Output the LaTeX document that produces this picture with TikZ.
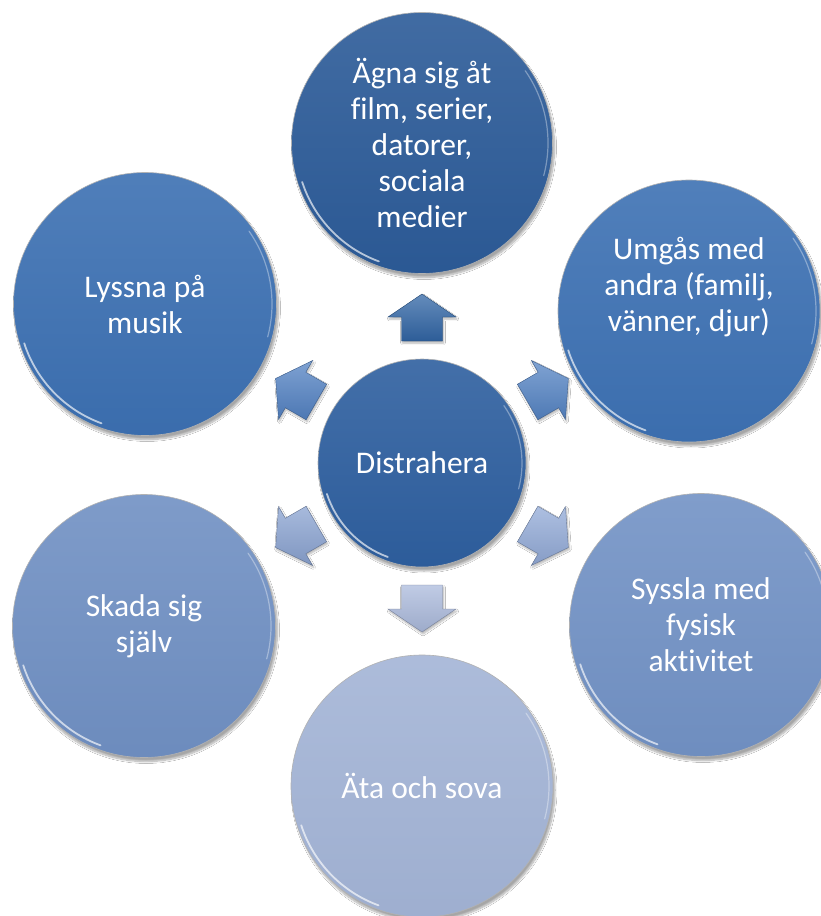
\documentclass[tikz,border=0pt]{standalone}
\usepackage{fontspec}
\setmainfont{Carlito}[Ligatures={NoCommon,NoContextual}]
\usetikzlibrary{shadows.blur,calc}

\definecolor{cTop}{HTML}{2C5B98}
\definecolor{cMid}{HTML}{2E5F9F}
\definecolor{cUL}{HTML}{3C70B2}
\definecolor{cUR}{HTML}{3D71B3}
\definecolor{cLL}{HTML}{7090C3}
\definecolor{cLR}{HTML}{7292C5}
\definecolor{cBot}{HTML}{A3B4D6}
\definecolor{aTop}{HTML}{3165A5}
\definecolor{aUL}{HTML}{5382C3}
\definecolor{aUR}{HTML}{5584C4}
\definecolor{aLL}{HTML}{8AA3D1}
\definecolor{aLR}{HTML}{92AAD7}
\definecolor{aBot}{HTML}{ABBADC}

\tikzset{
  bubble/.style={circle, minimum size=#1, inner sep=0pt, text=white,
    font=\fontsize{31.5}{36}\selectfont, align=center,
    draw=black!30, line width=0.6pt,
    blur shadow={shadow xshift=2pt, shadow yshift=-4pt, shadow blur steps=10, shadow opacity=35}},
  tint/.style={top color=#1!90!white, middle color=#1, bottom color=#1!97!black},
  lbl/.style={text=white, font=\fontsize{31.5}{36}\selectfont, align=center, inner sep=0pt},
  gloss/.style={white, opacity=0.65, line width=1.8pt, line cap=round},
  blockarr/.style={top color=#1!75!white, bottom color=#1!92!black, draw=#1!70!black, line width=0.4pt,
    blur shadow={shadow xshift=1pt, shadow yshift=-2pt, shadow blur steps=6, shadow opacity=30}}
}

\newcommand\BlockArrow[2]{%
  \begin{scope}[shift={(c.center)}, rotate=#1]
    \path[blockarr=#2] (122,-20.5) -- (146,-20.5) -- (146,-34) -- (169,0)
      -- (146,34) -- (146,20.5) -- (122,20.5) -- cycle;
  \end{scope}}

\newcommand\Gloss[2]{%
  \draw[gloss] ([shift={(198:#2)}]#1.center) arc[start angle=198, end angle=250, radius=#2];
  \draw[gloss, opacity=0.35, line width=1.2pt] ([shift={(-15:#2)}]#1.center) arc[start angle=-15, end angle=35, radius=#2];}

\begin{document}
\begin{tikzpicture}[x=1pt, y=1pt]
\useasboundingbox (0,0) rectangle (821,-916);
\fill[white] (0,0) rectangle (821,-916);

% centre
\node[bubble=208pt, tint=cMid] (c) at (422,-463) {Distrahera};

% outer circles
\node[bubble=261pt, tint=cTop] (top) at (422,-143) {Ägna sig åt\\film, serier,\\datorer,\\sociala\\medier};
\node[bubble=263pt, tint=cUL] (ul) at (145,-304) {Lyssna på\\musik};
\node[bubble=262pt, tint=cUR] (ur) at (689,-311) {};
\node[lbl] (urt) at (689,-287) {Umgås med\\andra (familj,\\vänner, djur)};
\node[bubble=263pt, tint=cLL] (ll) at (144,-626) {Skada sig\\själv};
\node[bubble=263pt, tint=cLR] (lr) at (701,-625) {Syssla med\\fysisk\\aktivitet};
\node[bubble=262pt, tint=cBot] (bot) at (422,-786) {Äta och sova};

% glossy rims
\Gloss{c}{100}
\Gloss{top}{126}
\Gloss{ul}{127}
\Gloss{ur}{127}
\Gloss{ll}{127}
\Gloss{lr}{127}
\Gloss{bot}{127}

% block arrows
\BlockArrow{90}{aTop}
\BlockArrow{150}{aUL}
\BlockArrow{30}{aUR}
\BlockArrow{210}{aLL}
\BlockArrow{330}{aLR}
\BlockArrow{270}{aBot}
\end{tikzpicture}
\end{document}
